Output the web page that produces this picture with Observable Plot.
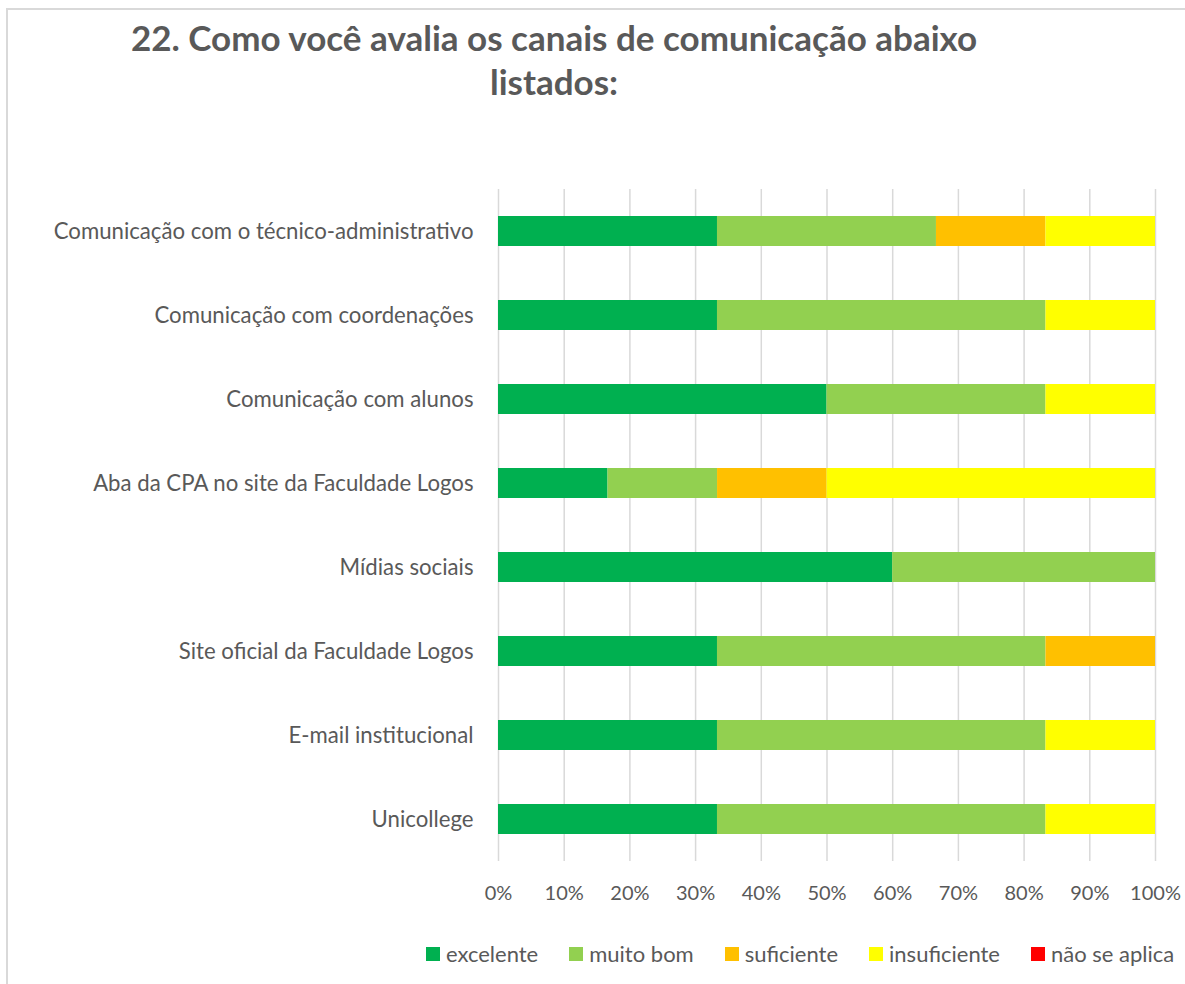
<!DOCTYPE html>
<html>
<head>
<meta charset="utf-8">
<script src="https://cdn.jsdelivr.net/npm/d3@7"></script>
<script src="https://cdn.jsdelivr.net/npm/@observablehq/plot@0.6"></script>
<style>
  html, body { margin: 0; padding: 0; background: #fff; }
  #wrap { position: relative; width: 1185px; height: 984px; overflow: hidden; font-family: Lato, "Open Sans", sans-serif; color: #595959; }
  #frame { position: absolute; left: 6px; top: 8px; width: 1300px; height: 1100px; border: 2px solid #d9d9d9; box-sizing: border-box; }
  #title { position: absolute; left: 0; top: 15px; width: 1108px; text-align: center; font-weight: bold; font-size: 35px; line-height: 44px; color: #595959; }
  #chart { position: absolute; left: 0; top: 0; }
  #legend { position: absolute; left: 426px; top: 940px; display: flex; gap: 31px; font-size: 22px; line-height: 28px; }
  #legend .item { display: flex; align-items: center; }
  #legend .sw { width: 14px; height: 14px; margin-right: 6px; }
</style>
</head>
<body>
<div id="wrap">
  <div id="frame"></div>
  <div id="chart"></div>
  <div id="title">22. Como você avalia os canais de comunicação abaixo<br>listados:</div>
  <div id="legend"></div>
</div>
<script>
const categories = [
  "Comunicação com o técnico-administrativo",
  "Comunicação com coordenações",
  "Comunicação com alunos",
  "Aba da CPA no site da Faculdade Logos",
  "Mídias sociais",
  "Site oficial da Faculdade Logos",
  "E-mail institucional",
  "Unicollege"
];
const seriesNames = ["excelente", "muito bom", "suficiente", "insuficiente", "não se aplica"];
const seriesColors = ["#00B050", "#92D050", "#FFC000", "#FFFF00", "#FF0000"];
// shares in %, per series, aligned with categories
const excelente    = [33.33, 33.33, 50.00, 16.67, 60, 33.33, 33.33, 33.33];
const muitoBom     = [33.33, 50.00, 33.33, 16.67, 40, 50.00, 50.00, 50.00];
const suficiente   = [16.67,  0,     0,    16.67,  0, 16.67,  0,     0   ];
const insuficiente = [16.67, 16.67, 16.67, 50.00,  0,  0,    16.67, 16.67];
const naoSeAplica  = [0, 0, 0, 0, 0, 0, 0, 0];
const xTicks = [0, 10, 20, 30, 40, 50, 60, 70, 80, 90, 100];

const seriesValues = [excelente, muitoBom, suficiente, insuficiente, naoSeAplica];
const data = [];
seriesNames.forEach((s, si) => {
  categories.forEach((c, ci) => {
    data.push({category: c, series: s, value: seriesValues[si][ci]});
  });
});

const plot = Plot.plot({
  width: 1185,
  height: 984,
  marginLeft: 498,
  marginRight: 30,
  marginTop: 189,
  marginBottom: 123,
  style: { fontFamily: "Lato, 'Open Sans', sans-serif", fontSize: "21px", color: "#595959", background: "transparent" },
  x: { domain: [0, 100], ticks: xTicks, tickFormat: d => d + "%", tickSize: 0, tickPadding: 24, label: null },
  y: { domain: categories, paddingInner: 0.643, paddingOuter: 0.3215, tickSize: 0, tickPadding: 25, label: null },
  color: { domain: seriesNames, range: seriesColors },
  marks: [
    Plot.gridX(xTicks, { stroke: "#d9d9d9", strokeOpacity: 1, strokeWidth: 1.5 }),
    Plot.barX(data, { x: "value", y: "category", fill: "series", z: "series", order: seriesNames }),
    Plot.axisX({ ticks: xTicks, tickFormat: d => d + "%", tickSize: 0, tickPadding: 24, fontSize: 20, fill: "#595959", label: null }),
    Plot.axisY({ tickSize: 0, tickPadding: 25, fontSize: 22.2, fill: "#595959", label: null })
  ]
});
document.getElementById("chart").appendChild(plot);

const legend = document.getElementById("legend");
seriesNames.forEach((s, i) => {
  const item = document.createElement("div");
  item.className = "item";
  const sw = document.createElement("span");
  sw.className = "sw";
  sw.style.background = seriesColors[i];
  const t = document.createElement("span");
  t.textContent = s;
  item.appendChild(sw);
  item.appendChild(t);
  legend.appendChild(item);
});
</script>
</body>
</html>
